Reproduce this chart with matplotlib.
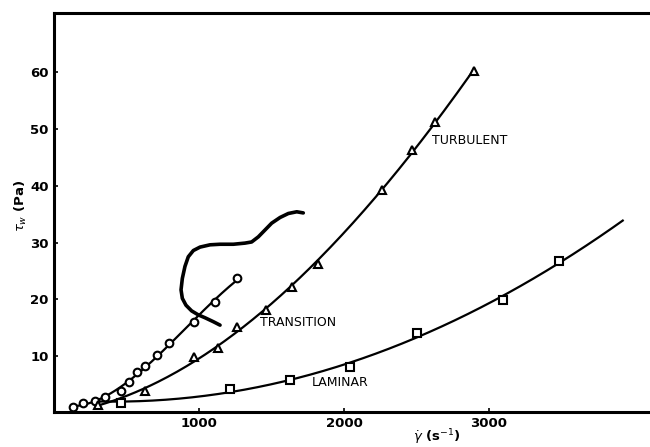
import numpy as np
import matplotlib.pyplot as plt

# wall shear stress vs shear rate, three flow regimes
rate_steep = [133, 202, 283, 352, 460, 520, 570, 628, 713, 793, 966, 1110, 1264]
tau_steep = [1.2, 1.8, 2.2, 2.8, 4.0, 5.5, 7.2, 8.3, 10.3, 12.4, 16.1, 19.6, 23.7]

rate_turb = [300, 628, 966, 1133, 1264, 1462, 1639, 1823, 2260, 2467, 2628, 2897]
tau_turb = [1.4, 4.0, 9.9, 11.4, 15.2, 18.2, 22.2, 26.3, 39.3, 46.3, 51.2, 60.1]

rate_lam = [460, 1214, 1628, 2041, 2501, 3094, 3485]
tau_lam = [1.9, 4.2, 5.9, 8.2, 14.1, 19.9, 26.8]

# extent of each fitted curve along the rate axis
steep_range = (133, 1264)
turb_range = (300, 2897)
lam_range = (317, 3922)

# pen stroke across the transition data
stroke_x = [1145, 1099, 1041, 995, 949, 910, 885, 876, 885, 903, 926, 961,
            1007, 1076, 1145, 1237, 1317, 1363, 1409, 1455, 1501, 1559,
            1616, 1674, 1719]
stroke_y = [15.5, 16.1, 16.8, 17.3, 18.0, 19.0, 20.2, 21.7, 23.7, 25.8,
            27.5, 28.6, 29.2, 29.6, 29.7, 29.7, 29.9, 30.1, 31.0, 32.2,
            33.4, 34.4, 35.1, 35.4, 35.2]

fig = plt.figure(figsize=(6.5, 4.47), dpi=100)
ax = fig.add_axes([54 / 650, 35.3 / 447, 1 - 54 / 650, (411.7 - 13) / 447])


def fit_curve(x, y, deg, span):
    coef = np.polyfit(x, y, deg)
    xs = np.linspace(span[0], span[1], 200)
    return xs, np.polyval(coef, xs)


for x, y, deg, span, mk, ms in [
    (rate_steep, tau_steep, 3, steep_range, 'o', 5.5),
    (rate_turb, tau_turb, 3, turb_range, '^', 5.5),
    (rate_lam, tau_lam, 2, lam_range, 's', 5.5),
]:
    xs, ys = fit_curve(x, y, deg, span)
    ax.plot(xs, ys, color='black', lw=1.6, zorder=2)
    ax.plot(x, y, linestyle='none', marker=mk, ms=ms, mfc='white',
            mec='black', mew=1.5, zorder=3)

ax.plot(stroke_x, stroke_y, color='black', lw=2.6, solid_capstyle='round',
        solid_joinstyle='round', zorder=4)

ax.text(2607, 48, 'TURBULENT', fontsize=9, va='center', ha='left')
ax.text(1421, 15.9, 'TRANSITION', fontsize=9, va='center', ha='left')
ax.text(1779, 5.4, 'LAMINAR', fontsize=9, va='center', ha='left')

ax.set_xlim(0, 4110)
ax.set_ylim(0.3, 70.3)
ax.set_xticks([1000, 2000, 3000])
ax.set_yticks([10, 20, 30, 40, 50, 60])
ax.tick_params(direction='in', length=3, width=1.2,
               labelsize=9.5, pad=4)
for lab in ax.get_xticklabels() + ax.get_yticklabels():
    lab.set_fontweight('bold')

for side in ['left', 'top', 'bottom']:
    ax.spines[side].set_linewidth(2.2)
ax.spines['right'].set_visible(False)

fig.text(437 / 650, 1 - 437 / 447, r'$\dot{\gamma}$ (s$^{-1}$)',
         fontsize=9.5, fontweight='bold', ha='center', va='center')
fig.text(21 / 650, 1 - 206 / 447, r'$\tau_w$ (Pa)', fontsize=9.5,
         fontweight='bold', rotation=90, ha='center', va='center')

fig.savefig('out.png', dpi=100)
